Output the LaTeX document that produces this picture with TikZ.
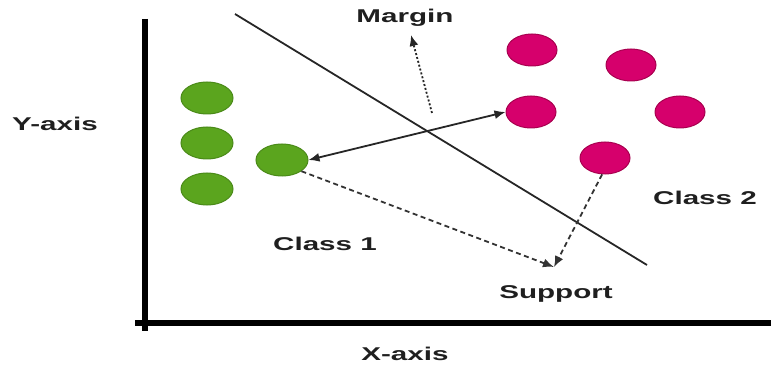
\documentclass[tikz,border=0pt]{standalone}
\usepackage{fontspec}
\newfontfamily\lab{Liberation Sans Bold}[FakeStretch=1.6]
\usetikzlibrary{arrows.meta,shapes.geometric}
\definecolor{gfill}{HTML}{5BA51E}
\definecolor{gedge}{HTML}{4A8A18}
\definecolor{pfill}{HTML}{D6006C}
\definecolor{pedge}{HTML}{A8004F}
\tikzset{
  lbl/.style={font=\lab\fontsize{18.5}{20}\selectfont, text=black!88, inner sep=0pt},
  gdot/.style={ellipse, draw=gedge, fill=gfill, line width=1pt, minimum width=52pt, minimum height=32pt, inner sep=0pt},
  pdot/.style={ellipse, draw=pedge, fill=pfill, line width=1pt, minimum width=50pt, minimum height=32pt, inner sep=0pt},
  axisline/.style={line width=6pt, black},
  tip/.style={-{Latex[length=11pt,width=9pt]}},
  dashline/.style={dashed, dash pattern=on 5pt off 3.5pt, line width=1.8pt, black!80},
}
\begin{document}
\begin{tikzpicture}[x=1pt,y=-1pt]
\useasboundingbox (0,0) rectangle (771,366);
% axes
\coordinate (ytop) at (145,19);
\coordinate (ybot) at (145,331);
\coordinate (xl) at (135,323);
\coordinate (xr) at (771,323);
\draw[axisline] (ytop) -- (ybot);
\draw[axisline] (xl) -- (xr);
\node[lbl] (ylab) at (55,124) {Y-axis};
\node[lbl] (xlab) at (405,354) {X-axis};
% hyperplane
\coordinate (h1) at (235,14);
\coordinate (h2) at (647,265);
\draw[line width=1.8pt, black!85] (h1) -- (h2);
% points
\node[gdot] (g1) at (207,98) {};
\node[gdot] (g2) at (207,143) {};
\node[gdot] (g3) at (207,189) {};
\node[gdot] (g4) at (282,160) {};
\node[pdot] (p1) at (532,50) {};
\node[pdot] (p2) at (631,65) {};
\node[pdot] (p3) at (531,112) {};
\node[pdot] (p4) at (680,112) {};
\node[pdot] (p5) at (605,158) {};
% labels
\node[lbl] (margin) at (405,18) {Margin};
\node[lbl] (c1) at (325,244) {Class 1};
\node[lbl] (c2) at (705,198) {Class 2};
\node[lbl] (sup) at (556,294) {Support};
% margin arrow
\coordinate (mt) at (432,113);
\coordinate (mh) at (411,35);
\draw[tip, dash pattern=on 2pt off 2pt, line width=1.8pt, black!85] (mt) -- (mh);
% double arrow
\draw[{Latex[length=11pt,width=9pt]}-{Latex[length=11pt,width=9pt]}, line width=1.8pt, black!85] (g4.east) -- (p3.west);
% support arrows
\coordinate (st) at (554,267);
\draw[tip, dashline] (g4.-30) -- (st);
\draw[tip, dashline] (p5.-100) -- (st);
\end{tikzpicture}
\end{document}
